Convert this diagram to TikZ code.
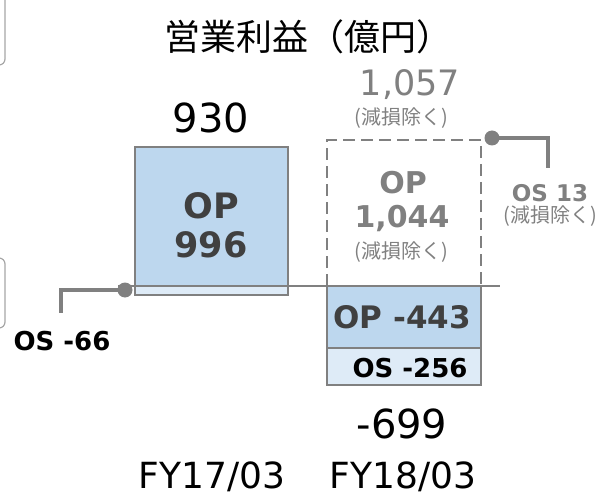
\documentclass[tikz,border=0pt]{standalone}
\usepackage{fontspec}
\setmainfont{DejaVu Sans}
\newfontfamily\jpfont{Noto Sans CJK JP}
\definecolor{opblue}{HTML}{BDD7EE}
\definecolor{oslight}{HTML}{DEEBF7}
\definecolor{linegray}{HTML}{808080}
\definecolor{textdark}{HTML}{404040}
\newcommand{\setfs}[1]{\fontsize{#1}{#1}\selectfont}
\begin{document}
\begin{tikzpicture}[x=1pt,y=-1pt,
  lbl/.style={inner sep=0pt,anchor=center},
  barline/.style={draw=linegray,line width=1.5pt},
  conn/.style={draw=linegray,line width=3.5pt},
  note/.style={lbl,font=\jpfont\setfs{20},text=linegray}]
  \useasboundingbox (0,0) rectangle (597,497);
  % cut-off frames at the left edge
  \draw[gray!70,line width=1.2pt,rounded corners=6pt] (-30,-30) rectangle (5,65);
  \draw[gray!70,line width=1.2pt,rounded corners=6pt] (-30,258) rectangle (5,328);
  \node[lbl,font=\jpfont\setfs{36}] (title) at (308,37) {営業利益（億円）};
  % FY17/03
  \fill[opblue] (135,147) rectangle (288,286);
  \fill[oslight] (135,286) rectangle (288,295);
  \draw[barline] (135,147) rectangle (288,295);
  % FY18/03
  \fill[opblue] (327,286) rectangle (481,348);
  \fill[oslight] (327,348) rectangle (481,385);
  \draw[barline] (327,286) rectangle (481,385);
  \draw[barline] (327,348) -- (481,348);
  \draw[linegray,line width=2pt,dash pattern=on 12pt off 6pt]
    (327,286) -- (327,140) -- (481,140) -- (481,286);
  % zero line
  \coordinate (axisL) at (118,286);
  \coordinate (axisR) at (500,286);
  \draw[linegray,line width=2pt] (axisL) -- (axisR);
  % other segment markers
  \coordinate (dotL) at (125,290);
  \coordinate (endL) at (61,313);
  \coordinate (dotR) at (492,138);
  \coordinate (endR) at (548,168);
  \draw[conn] (dotL) -| (endL);
  \draw[conn] (dotR) -| (endR);
  \fill[linegray] (dotL) circle (7.5);
  \fill[linegray] (dotR) circle (7.5);
  % labels
  \node[lbl,font=\setfs{40}] (tot17) at (211,118) {930};
  \node[lbl,font=\bfseries\setfs{35},text=textdark,align=center] (op17) at (211,225) {OP\\[4pt]996};
  \node[lbl,font=\bfseries\setfs{26}] (os17) at (62,341) {OS -66};
  \node[lbl,font=\setfs{35},text=linegray] (adj18) at (410,85) {1,057};
  \node[note] (adj18n) at (401,118) {(減損除く)};
  \node[lbl,font=\bfseries\setfs{30},text=linegray] (opadj) at (403,183) {OP};
  \node[lbl,font=\bfseries\setfs{30},text=linegray] (opadjv) at (402,218) {1,044};
  \node[note] (opadjn) at (401,252) {(減損除く)};
  \node[lbl,font=\bfseries\setfs{23},text=linegray] (osadj) at (550,193) {OS 13};
  \node[note] (osadjn) at (550,216) {(減損除く)};
  \node[lbl,font=\bfseries\setfs{31},text=textdark] (op18) at (402,317) {OP -443};
  \node[lbl,font=\bfseries\setfs{26}] (os18) at (410,368) {OS -256};
  \node[lbl,font=\setfs{40}] (tot18) at (402,424) {-699};
  \node[lbl,font=\setfs{36}] (fy17) at (212,477) {FY17/03};
  \node[lbl,font=\setfs{36}] (fy18) at (403,477) {FY18/03};
\end{tikzpicture}
\end{document}
